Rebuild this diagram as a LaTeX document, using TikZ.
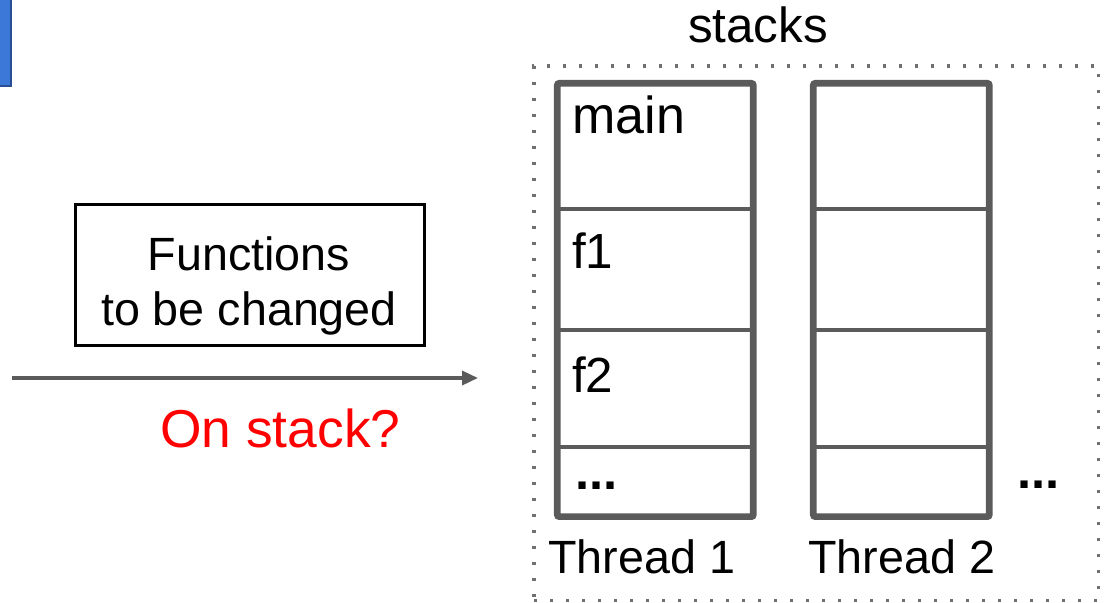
\documentclass[tikz,border=0pt]{standalone}
\usepackage{fontspec}
\setmainfont{Liberation Sans}
\usetikzlibrary{arrows.meta}
\definecolor{frameg}{HTML}{5B5B5B}
\definecolor{dotg}{HTML}{707070}
\definecolor{slideblue}{HTML}{3C78D8}
\definecolor{slideblueb}{HTML}{2A4F94}
\tikzset{
  x=0.75pt, y=-0.75pt,
  stackframe/.style={draw=frameg, line width=5pt, rounded corners=1.5pt, outer sep=0pt,
                     minimum height=325pt, inner sep=0pt},
  divider/.style={draw=frameg, line width=2.4pt},
  lbl/.style={inner sep=0pt, anchor=base west},
  dots/.style={draw=dotg, line width=2.4pt, dash pattern=on 2.4pt off 9.6pt},
}
\begin{document}
\begin{tikzpicture}
\useasboundingbox (0,0) rectangle (1111,603);
\clip (0,0) rectangle (1111,603);

% corner of a blue shape cut by the page edge
\node[draw=slideblueb, fill=slideblue, line width=2pt, minimum width=40pt, minimum height=80pt,
      inner sep=0pt, outer sep=0pt, anchor=south east] (tab) at (11,86) {};

% region holding the stacks
\node[dots, minimum width=423.5pt, minimum height=401pt, inner sep=0pt, outer sep=0pt,
      anchor=north west] (region) at (534,66) {};
\node[inner sep=0pt, anchor=base, font=\fontsize{37pt}{44pt}\selectfont] (stackslbl) at (758,42) {stacks};

% functions box
\node[draw=black, line width=2.2pt, minimum width=262pt, minimum height=106pt, inner sep=0pt,
      anchor=north west] (funcs) at (74,203) {};
\node[inner sep=0pt, anchor=base, font=\fontsize{35pt}{40pt}\selectfont] (funcsA) at (249,270) {Functions};
\node[inner sep=0pt, anchor=base, font=\fontsize{35pt}{40pt}\selectfont] (funcsB) at (249,325) {to be changed};

% arrow into the stacks
\coordinate (arrA) at (12,378);
\coordinate (arrB) at (478,378);
\draw[frameg, line width=2.6pt, -{Triangle[length=12pt, width=10.5pt]}] (arrA) -- (arrB);
\node[inner sep=0pt, anchor=base west, text=red, font=\fontsize{40pt}{46pt}\selectfont] (onstack) at (160,447) {On stack?};

% thread 1 stack
\node[stackframe, minimum width=147pt, anchor=north west] (s1) at (557.3,83.3) {};
\draw[divider] (s1.north west |- 0,209) -- (s1.north east |- 0,209);
\draw[divider] (s1.north west |- 0,330) -- (s1.north east |- 0,330);
\draw[divider] (s1.north west |- 0,447) -- (s1.north east |- 0,447);
\node[lbl, font=\fontsize{39pt}{44pt}\selectfont] (fmain) at (572,133) {main};
\node[lbl, font=\fontsize{37pt}{44pt}\selectfont] (ff1) at (572,268) {f1};
\node[lbl, font=\fontsize{37pt}{44pt}\selectfont] (ff2) at (572,392) {f2};
\node[lbl, font=\fontsize{38pt}{44pt}\bfseries] (fdots) at (575,489) {...};
\node[lbl, font=\fontsize{35pt}{42pt}\selectfont] (t1) at (548,573) {Thread 1};

% thread 2 stack
\node[stackframe, minimum width=132pt, anchor=north west] (s2) at (813.3,83.3) {};
\draw[divider] (s2.north west |- 0,209) -- (s2.north east |- 0,209);
\draw[divider] (s2.north west |- 0,330) -- (s2.north east |- 0,330);
\draw[divider] (s2.north west |- 0,447) -- (s2.north east |- 0,447);
\node[lbl, font=\fontsize{35pt}{42pt}\selectfont] (t2) at (808,573) {Thread 2};

% more threads
\node[lbl, font=\fontsize{38pt}{44pt}\bfseries] (moredots) at (1017,488) {...};
\end{tikzpicture}
\end{document}
